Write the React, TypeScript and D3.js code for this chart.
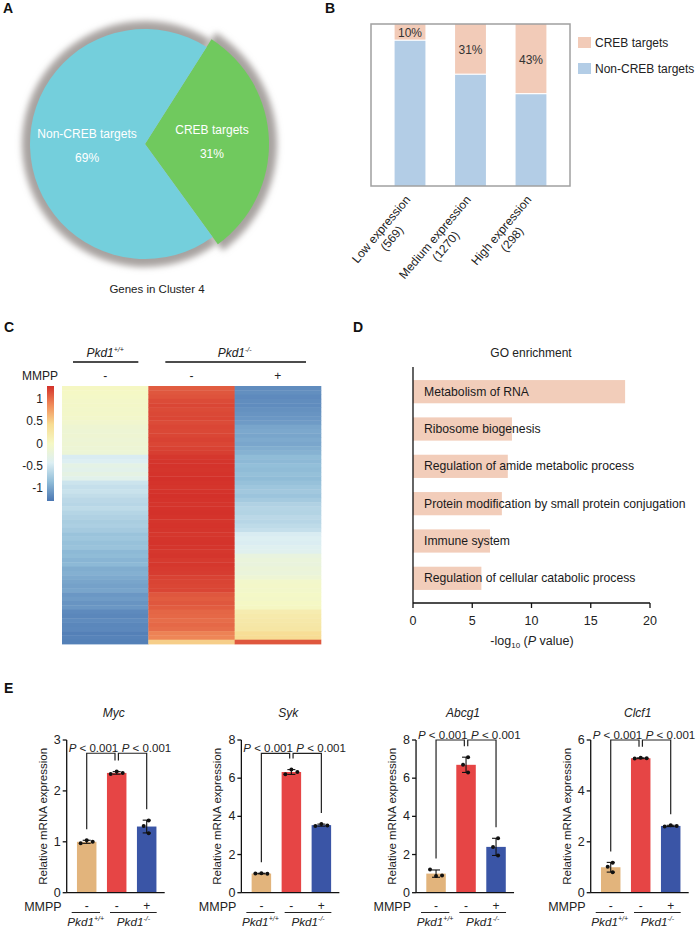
import React from 'react';
import * as d3 from 'd3';

const FONT = "'Liberation Sans', Arial, Helvetica, sans-serif";

// ---------- Panel A data ----------
const pieCategories = ['CREB targets', 'Non-CREB targets'];
const pieValues = [31, 69];
const pieTitle = 'Genes in Cluster 4';

// ---------- Panel B data ----------
const exprCategories = ['Low expression', 'Medium expression', 'High expression'];
const exprCounts = [569, 1270, 298];
const crebPct = [10, 31, 43];
const nonCrebPct = [90, 69, 57];
const legendLabels = ['CREB targets', 'Non-CREB targets'];

// ---------- Panel C data (row z-scores, top to bottom) ----------
const heatWT = [
  0.02, 0.0,
  -0.02, -0.04, -0.03, -0.05, -0.04, -0.06, -0.08,
  -0.12, -0.14, -0.12, -0.15, -0.13, -0.15, -0.16,
  -0.45, -0.42,
  -0.3, -0.34, -0.28, -0.35,
  -0.52, -0.56, -0.54, -0.58,
  -0.62, -0.64, -0.6, -0.65, -0.68,
  -0.72, -0.7, -0.74,
  -0.8, -0.78, -0.82, -0.8,
  -0.88, -0.86, -0.9, -0.88,
  -0.95, -0.93, -0.97,
  -1.0, -1.02, -1.0,
  -1.08, -1.06, -1.1, -1.08,
  -1.16, -1.18, -1.15, -1.18, -1.17,
  -1.22, -1.2, -1.22,
];
const heatKO = [
  1.08, 1.1, 1.12,
  1.16, 1.18, 1.16, 1.17, 1.18, 1.16, 1.18, 1.17, 1.18, 1.2, 1.18, 1.2, 1.22,
  1.25, 1.26, 1.27, 1.26, 1.27, 1.28, 1.27, 1.26, 1.27, 1.28, 1.27, 1.26, 1.27, 1.28,
  1.27, 1.26, 1.27, 1.26, 1.25, 1.26, 1.27, 1.26, 1.25, 1.26, 1.24, 1.25, 1.24, 1.23,
  1.2, 1.19, 1.18, 1.18,
  1.1, 1.08, 1.1, 1.08,
  1.03, 1.02, 1.0, 1.02, 1.0,
  0.9, 0.88,
  0.5,
];
const heatMMPP = [
  -1.15, -1.13, -1.16, -1.14, -1.15, -1.12,
  -1.1, -1.08, -1.06,
  -1.0, -0.98, -1.0, -0.97, -0.99, -0.95, -0.92,
  -0.86, -0.88, -0.84, -0.86, -0.83, -0.86, -0.82,
  -0.78, -0.76, -0.79, -0.74,
  -0.68, -0.65, -0.66, -0.62, -0.64, -0.6, -0.56,
  -0.45, -0.42, -0.44, -0.4, -0.38,
  -0.24, -0.2, -0.22, -0.18, -0.2, -0.15,
  -0.06, -0.04, -0.05, -0.02, -0.03, 0.0, 0.02,
  0.18, 0.22, 0.24, 0.26, 0.28,
  0.4, 0.42,
  1.1,
];
const heatColumns = [heatWT, heatKO, heatMMPP];
const heatTreatment = ['-', '-', '+'];
const colorbarTicks = [1, 0.5, 0, -0.5, -1];
const colorRange = [-1.28, 1.28];
const heatPalette = ['#4A76B2', '#91BDD8', '#DDEFF3', '#F5F8C5', '#F7DC93', '#F08C5A', '#D3312A'];

// ---------- Panel D data ----------
const goTerms = [
  'Metabolism of RNA',
  'Ribosome biogenesis',
  'Regulation of amide metabolic process',
  'Protein modification by small protein conjugation',
  'Immune system',
  'Regulation of cellular catabolic process',
];
const goValues = [17.9, 8.35, 8.0, 7.5, 6.5, 5.77];
const goTicks = [0, 5, 10, 15, 20];

// ---------- Panel E data ----------
const genes = ['Myc', 'Syk', 'Abcg1', 'Clcf1'];
const geneYMax = [3, 8, 8, 6];
const geneYStep = [1, 2, 2, 2];
const wtPoints = [[0.97, 1.03, 1.0], [1.0, 1.02, 0.99], [1.22, 0.88, 0.9], [1.18, 1.02, 0.8]];
const koPoints = [[2.33, 2.38, 2.35], [6.2, 6.45, 6.32], [7.1, 6.7, 6.3], [5.27, 5.3, 5.28]];
const mmppPoints = [[1.42, 1.31, 1.17], [3.5, 3.6, 3.52], [2.85, 2.4, 1.95], [2.6, 2.65, 2.62]];
const bracketLevel = [2.74, 7.3, 8.0, 6.0];
const groupTreatment = ['-', '-', '+'];
const groupColors = ['#E2B47C', '#E64545', '#3A55A6'];

// ---------- helpers ----------
let measureCtx: CanvasRenderingContext2D | null = null;
function textWidth(t: string, size: number) {
  if (!measureCtx) measureCtx = document.createElement('canvas').getContext('2d');
  if (!measureCtx) return t.length * size * 0.5;
  measureCtx.font = `${size}px ${FONT}`;
  return measureCtx.measureText(t).width;
}

function PanelA() {
  const cx = 145, cy = 144;
  const radii = [124, 115];
  const labelR = [67, 58];
  const colors = ['#70C95E', '#74CFDC'];
  const start = 0.566;
  const arcs = d3.pie<number>().sort(null).startAngle(start).endAngle(start + 2 * Math.PI)(pieValues);
  return (
    <g>
      <defs>
        <filter id="pieBlur" x="-20%" y="-20%" width="140%" height="140%">
          <feGaussianBlur stdDeviation="3" />
        </filter>
      </defs>
      <g transform={`translate(${cx},${cy})`}>
        {arcs.map((a, i) => (
          <path key={'s' + i}
            d={d3.arc<any>().innerRadius(0).outerRadius(radii[i] + 8)(a) || ''}
            fill="#A8A3A0" filter="url(#pieBlur)" />
        ))}
        {arcs.map((a, i) => (
          <path key={'p' + i}
            d={d3.arc<any>().innerRadius(0).outerRadius(radii[i])(a) || ''}
            fill={colors[i]} />
        ))}
        {arcs.map((a, i) => {
          const c = d3.arc<any>().innerRadius(labelR[i]).outerRadius(labelR[i]).centroid(a);
          return (
            <g key={'l' + i} fill="#fff" fontSize={12} textAnchor="middle">
              <text x={c[0]} y={c[1] - 8}>{pieCategories[i]}</text>
              <text x={c[0]} y={c[1] + 16}>{pieValues[i]}%</text>
            </g>
          );
        })}
      </g>
      <text x={157} y={293} fontSize={11.5} textAnchor="middle" fill="#222">{pieTitle}</text>
    </g>
  );
}

function PanelB() {
  const left = 371, right = 570, top = 24, bottom = 186;
  const x = d3.scaleBand<string>().domain(exprCategories).range([left, right]).paddingInner(0.49).paddingOuter(0.39);
  const y = d3.scaleLinear().domain([0, 100]).range([bottom, top]);
  const creb = '#F2CBB8';
  const non = '#B3CDE6';
  const fs = 12;
  return (
    <g>
      {exprCategories.map((c, i) => {
        const bx = x(c)!;
        const split = y(nonCrebPct[i]);
        return (
          <g key={c}>
            <rect x={bx} y={split + 0.6} width={x.bandwidth()} height={y(0) - split - 0.6} fill={non} />
            <rect x={bx} y={y(100)} width={x.bandwidth()} height={split - 0.6 - y(100)} fill={creb} />
            <text x={bx + x.bandwidth() / 2} y={(y(100) + split) / 2 + 1} fontSize={fs} fill="#333"
              textAnchor="middle" dominantBaseline="central">{crebPct[i]}%</text>
          </g>
        );
      })}
      <rect x={left} y={top} width={right - left} height={bottom - top} fill="none" stroke="#A0A0A0" strokeWidth={1.5} />
      {exprCategories.map((c, i) => {
        const cxp = x(c)! + x.bandwidth() / 2;
        const w1 = textWidth(c, fs);
        return (
          <g key={'lab' + c} transform={`translate(${cxp + 1},${bottom + 14}) rotate(-50)`} fontSize={fs} fill="#222">
            <text x={0} y={0} textAnchor="end">{c}</text>
            <text x={-w1 / 2} y={14} textAnchor="middle">({exprCounts[i]})</text>
          </g>
        );
      })}
      {legendLabels.map((l, i) => (
        <g key={l}>
          <rect x={578} y={37 + i * 26} width={13} height={11} fill={i === 0 ? creb : non} />
          <text x={595} y={43 + i * 26} fontSize={fs} dominantBaseline="central" fill="#222">{l}</text>
        </g>
      ))}
    </g>
  );
}

function PanelC() {
  const left = 62, right = 321, top = 386, bottom = 644;
  const nRows = heatWT.length;
  const xs = d3.scaleBand<number>().domain([0, 1, 2]).range([left, right]);
  const ys = d3.scaleBand<number>().domain(d3.range(nRows)).range([top, bottom]);
  const stops = d3.range(7).map(i => colorRange[0] + (i * (colorRange[1] - colorRange[0])) / 6);
  const color = d3.scaleLinear<string>().domain(stops).range(heatPalette).interpolate(d3.interpolateRgb).clamp(true);
  const cbTop = 386, cbBottom = 501;
  const cbY = d3.scaleLinear().domain(colorRange).range([cbBottom, cbTop]);
  return (
    <g>
      <defs>
        <linearGradient id="cbGrad" x1="0" y1="1" x2="0" y2="0">
          {heatPalette.map((c, i) => <stop key={i} offset={`${(i / 6) * 100}%`} stopColor={c} />)}
        </linearGradient>
      </defs>
      {heatColumns.map((col, ci) =>
        col.map((v, ri) => (
          <rect key={ci + '-' + ri} x={xs(ci)!} y={ys(ri)!} width={xs.bandwidth() + 0.3}
            height={ys.bandwidth() + 0.4} fill={color(v)} />
        ))
      )}
      <rect x={47} y={cbTop} width={7} height={cbBottom - cbTop} fill="url(#cbGrad)" />
      {colorbarTicks.map(t => (
        <text key={t} x={43} y={cbY(t)} fontSize={12} textAnchor="end" dominantBaseline="central" fill="#222">{t}</text>
      ))}
      <g fontSize={12} fill="#222">
        <text x={xs(0)! + xs.bandwidth() / 2} y={357} textAnchor="middle" fontStyle="italic">
          Pkd1<tspan dy={-5} fontSize={7}>+/+</tspan>
        </text>
        <text x={(xs(1)! + right) / 2} y={357} textAnchor="middle" fontStyle="italic">
          Pkd1<tspan dy={-5} fontSize={7}>-/-</tspan>
        </text>
        <line x1={xs(0)! + 11} x2={xs(0)! + xs.bandwidth() - 10} y1={362} y2={362} stroke="#111" strokeWidth={1.3} />
        <line x1={xs(1)! + 17} x2={right - 15} y1={362} y2={362} stroke="#111" strokeWidth={1.3} />
        <text x={22} y={380}>MMPP</text>
        {heatTreatment.map((t, i) => (
          <text key={i} x={xs(i)! + xs.bandwidth() / 2} y={380} textAnchor="middle">{t}</text>
        ))}
      </g>
    </g>
  );
}

function PanelD() {
  const left = 413, right = 650, top = 367, bottom = 603;
  const x = d3.scaleLinear().domain([0, 20]).range([left, right]);
  const y = d3.scaleBand<string>().domain(goTerms).range([top, bottom]).paddingInner(0.378).paddingOuter(0.35);
  return (
    <g>
      <text x={531} y={357} fontSize={12} textAnchor="middle" fill="#222">GO enrichment</text>
      {goTerms.map((t, i) => (
        <g key={t}>
          <rect x={x(0)} y={y(t)!} width={x(goValues[i]) - x(0)} height={y.bandwidth()} fill="#F2CDBA" />
          <text x={424} y={y(t)! + y.bandwidth() / 2} fontSize={12.2} dominantBaseline="central" fill="#1a1a1a">{t}</text>
        </g>
      ))}
      <line x1={left} x2={left} y1={top} y2={bottom} stroke="#111" strokeWidth={1.3} />
      <line x1={left} x2={right} y1={bottom} y2={bottom} stroke="#111" strokeWidth={1.3} />
      {goTicks.map(t => (
        <g key={t}>
          <line x1={x(t)} x2={x(t)} y1={bottom} y2={bottom + 5} stroke="#111" strokeWidth={1.3} />
          <text x={x(t)} y={624.5} fontSize={12.5} textAnchor="middle" fill="#222">{t}</text>
        </g>
      ))}
      <text x={532} y={645} fontSize={12.5} textAnchor="middle" fill="#222">
        -log<tspan fontSize={8} dy={3}>10</tspan><tspan dy={-3}> (</tspan><tspan fontStyle="italic">P</tspan> value)
      </text>
    </g>
  );
}

function GenePlot({ gi }: { gi: number }) {
  const axisX = 66.7 + gi * 174.67;
  const yTop = 740, yBottom = 892.7;
  const y = d3.scaleLinear().domain([0, geneYMax[gi]]).range([yBottom, yTop]);
  const x = d3.scaleBand<number>().domain([0, 1, 2]).range([axisX, axisX + 100]).paddingInner(0.35).paddingOuter(0.342);
  const groups = [wtPoints[gi], koPoints[gi], mmppPoints[gi]];
  const ticks = d3.range(0, geneYMax[gi] + geneYStep[gi] / 2, geneYStep[gi]);
  const centers = [0, 1, 2].map(i => x(i)! + x.bandwidth() / 2);
  const stats = groups.map(p => {
    const m = d3.mean(p)!;
    const s = d3.deviation(p)!;
    return { m, s, top: Math.max(m + s, d3.max(p)!) };
  });
  const by = y(bracketLevel[gi]);
  const gap = 11;
  const drop = (i: number) => y(stats[i].top) - gap;
  const pFs = 11.5;
  return (
    <g>
      <text x={axisX + 47} y={717} fontSize={12} fontStyle="italic" textAnchor="middle" fill="#222">{genes[gi]}</text>
      {groups.map((p, i) => (
        <rect key={'b' + i} x={x(i)!} y={y(stats[i].m)} width={x.bandwidth()} height={y(0) - y(stats[i].m)} fill={groupColors[i]} />
      ))}
      {groups.map((p, i) => {
        const c = centers[i];
        const spreadPx = y(d3.min(p)!) - y(d3.max(p)!);
        const offs = spreadPx < 8 ? [-6, 0, 6] : [2, -3, 2];
        return (
          <g key={'e' + i} stroke="#111" strokeWidth={1.1}>
            <line x1={c} x2={c} y1={y(stats[i].m - stats[i].s)} y2={y(stats[i].m + stats[i].s)} />
            <line x1={c - 4} x2={c + 4} y1={y(stats[i].m + stats[i].s)} y2={y(stats[i].m + stats[i].s)} />
            <line x1={c - 4} x2={c + 4} y1={y(stats[i].m - stats[i].s)} y2={y(stats[i].m - stats[i].s)} />
            {p.map((v, k) => (
              <circle key={k} cx={c + offs[k]} cy={y(v)} r={2} fill="#111" stroke="none" />
            ))}
          </g>
        );
      })}
      <line x1={axisX} x2={axisX} y1={yTop} y2={yBottom} stroke="#111" strokeWidth={1.3} />
      <line x1={axisX} x2={axisX + 98} y1={yBottom} y2={yBottom} stroke="#111" strokeWidth={1.3} />
      {ticks.map(t => (
        <g key={t}>
          <line x1={axisX - 4} x2={axisX} y1={y(t)} y2={y(t)} stroke="#111" strokeWidth={1.3} />
          <text x={axisX - 6} y={y(t)} fontSize={12.5} textAnchor="end" dominantBaseline="central" fill="#222">{t}</text>
        </g>
      ))}
      <text transform={`translate(${axisX - 20},${(yTop + yBottom) / 2}) rotate(-90)`} fontSize={11.5}
        textAnchor="middle" fill="#222">Relative mRNA expression</text>
      <g stroke="#222" strokeWidth={1.2} fill="none">
        <path d={`M${centers[0]},${drop(0)}V${by}H${centers[1] - 1.7}V${drop(1)}`} />
        <path d={`M${centers[1] + 1.7},${drop(1)}V${by}H${centers[2]}V${drop(2)}`} />
      </g>
      <text x={centers[1] + 1.5} y={by - 1.5} fontSize={pFs} textAnchor="end" fill="#222">
        <tspan fontStyle="italic">P</tspan> &lt; 0.001
      </text>
      <text x={centers[1] + 5} y={by - 1.5} fontSize={pFs} textAnchor="start" fill="#222">
        <tspan fontStyle="italic">P</tspan> &lt; 0.001
      </text>
      <g fill="#222">
        <text x={axisX - 5} y={910.5} fontSize={12.5} textAnchor="end">MMPP</text>
        {groupTreatment.map((t, i) => (
          <text key={i} x={centers[i]} y={910} fontSize={12} textAnchor="middle">{t}</text>
        ))}
        <line x1={axisX + 5} x2={axisX + 33.3} y1={912.5} y2={912.5} stroke="#222" strokeWidth={1} />
        <line x1={axisX + 43.3} x2={axisX + 90} y1={912.5} y2={912.5} stroke="#222" strokeWidth={1} />
        <text x={axisX + 19} y={925.5} fontSize={11.7} fontStyle="italic" textAnchor="middle">
          Pkd1<tspan dy={-4.5} fontSize={7}>+/+</tspan>
        </text>
        <text x={axisX + 66.7} y={925.5} fontSize={11.7} fontStyle="italic" textAnchor="middle">
          Pkd1<tspan dy={-4.5} fontSize={7}>-/-</tspan>
        </text>
      </g>
    </g>
  );
}

export default function App() {
  return (
    <svg width={700} height={928} viewBox="0 0 700 928"
      style={{ position: 'absolute', left: 0, top: 0, background: '#fff' }} fontFamily={FONT}>
      <rect x={0} y={0} width={700} height={928} fill="#fff" />
      <g fontWeight="bold" fontSize={14} fill="#111">
        <text x={3} y={13}>A</text>
        <text x={325} y={13}>B</text>
        <text x={4} y={332}>C</text>
        <text x={353} y={332}>D</text>
        <text x={4} y={693}>E</text>
      </g>
      <PanelA />
      <PanelB />
      <PanelC />
      <PanelD />
      {genes.map((g, i) => <GenePlot key={g} gi={i} />)}
    </svg>
  );
}
